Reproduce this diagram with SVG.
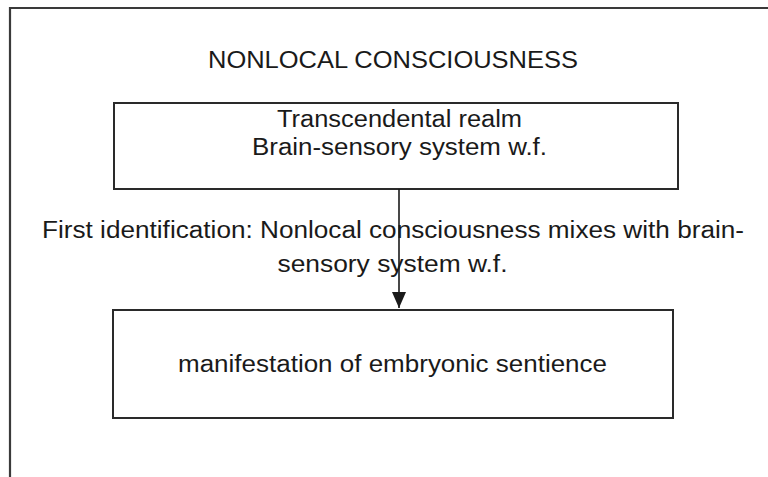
<svg xmlns="http://www.w3.org/2000/svg" width="768" height="477" viewBox="0 0 768 477">
<defs>
<style>
.t{font-family:"Liberation Sans",Arial,sans-serif;font-size:23px;fill:#1a1a1a;text-anchor:middle}
.box{fill:#fff;stroke:#2a2a2a;stroke-width:2}
.conn{stroke:#1a1a1a;stroke-width:1.6;fill:none}
</style>
<marker id="ah" viewBox="0 0 16 14" refX="16" refY="7" markerWidth="16" markerHeight="14" markerUnits="userSpaceOnUse" orient="auto">
<path d="M0,0 L16,7 L0,14 Z" fill="#1a1a1a"/>
</marker>
</defs>
<rect x="0" y="0" width="768" height="477" fill="#fff"/>
<g id="frame">
<path d="M10,480 L10,8 L770,8" fill="none" stroke="#3a3a3a" stroke-width="2.2"/>
</g>
<g id="title">
<text class="t" x="393" y="68" textLength="370" lengthAdjust="spacingAndGlyphs">NONLOCAL CONSCIOUSNESS</text>
</g>
<g id="node-transcendental">
<rect class="box" x="114" y="103" width="564" height="86"/>
<text class="t" x="399.5" y="127" textLength="245" lengthAdjust="spacingAndGlyphs">Transcendental realm</text>
<text class="t" x="399.5" y="155" textLength="295" lengthAdjust="spacingAndGlyphs">Brain-sensory system w.f.</text>
</g>
<g id="node-manifestation">
<rect class="box" x="113" y="310" width="560" height="108"/>
<text class="t" x="392.5" y="372" textLength="429" lengthAdjust="spacingAndGlyphs">manifestation of embryonic sentience</text>
</g>
<g id="connectors">
<line class="conn" x1="399" y1="189" x2="399" y2="308" marker-end="url(#ah)"/>
</g>
<g id="connector-label">
<text class="t" x="393" y="238" textLength="702" lengthAdjust="spacingAndGlyphs">First identification: Nonlocal consciousness mixes with brain-</text>
<text class="t" x="392.5" y="272" textLength="230" lengthAdjust="spacingAndGlyphs">sensory system w.f.</text>
</g>
</svg>
